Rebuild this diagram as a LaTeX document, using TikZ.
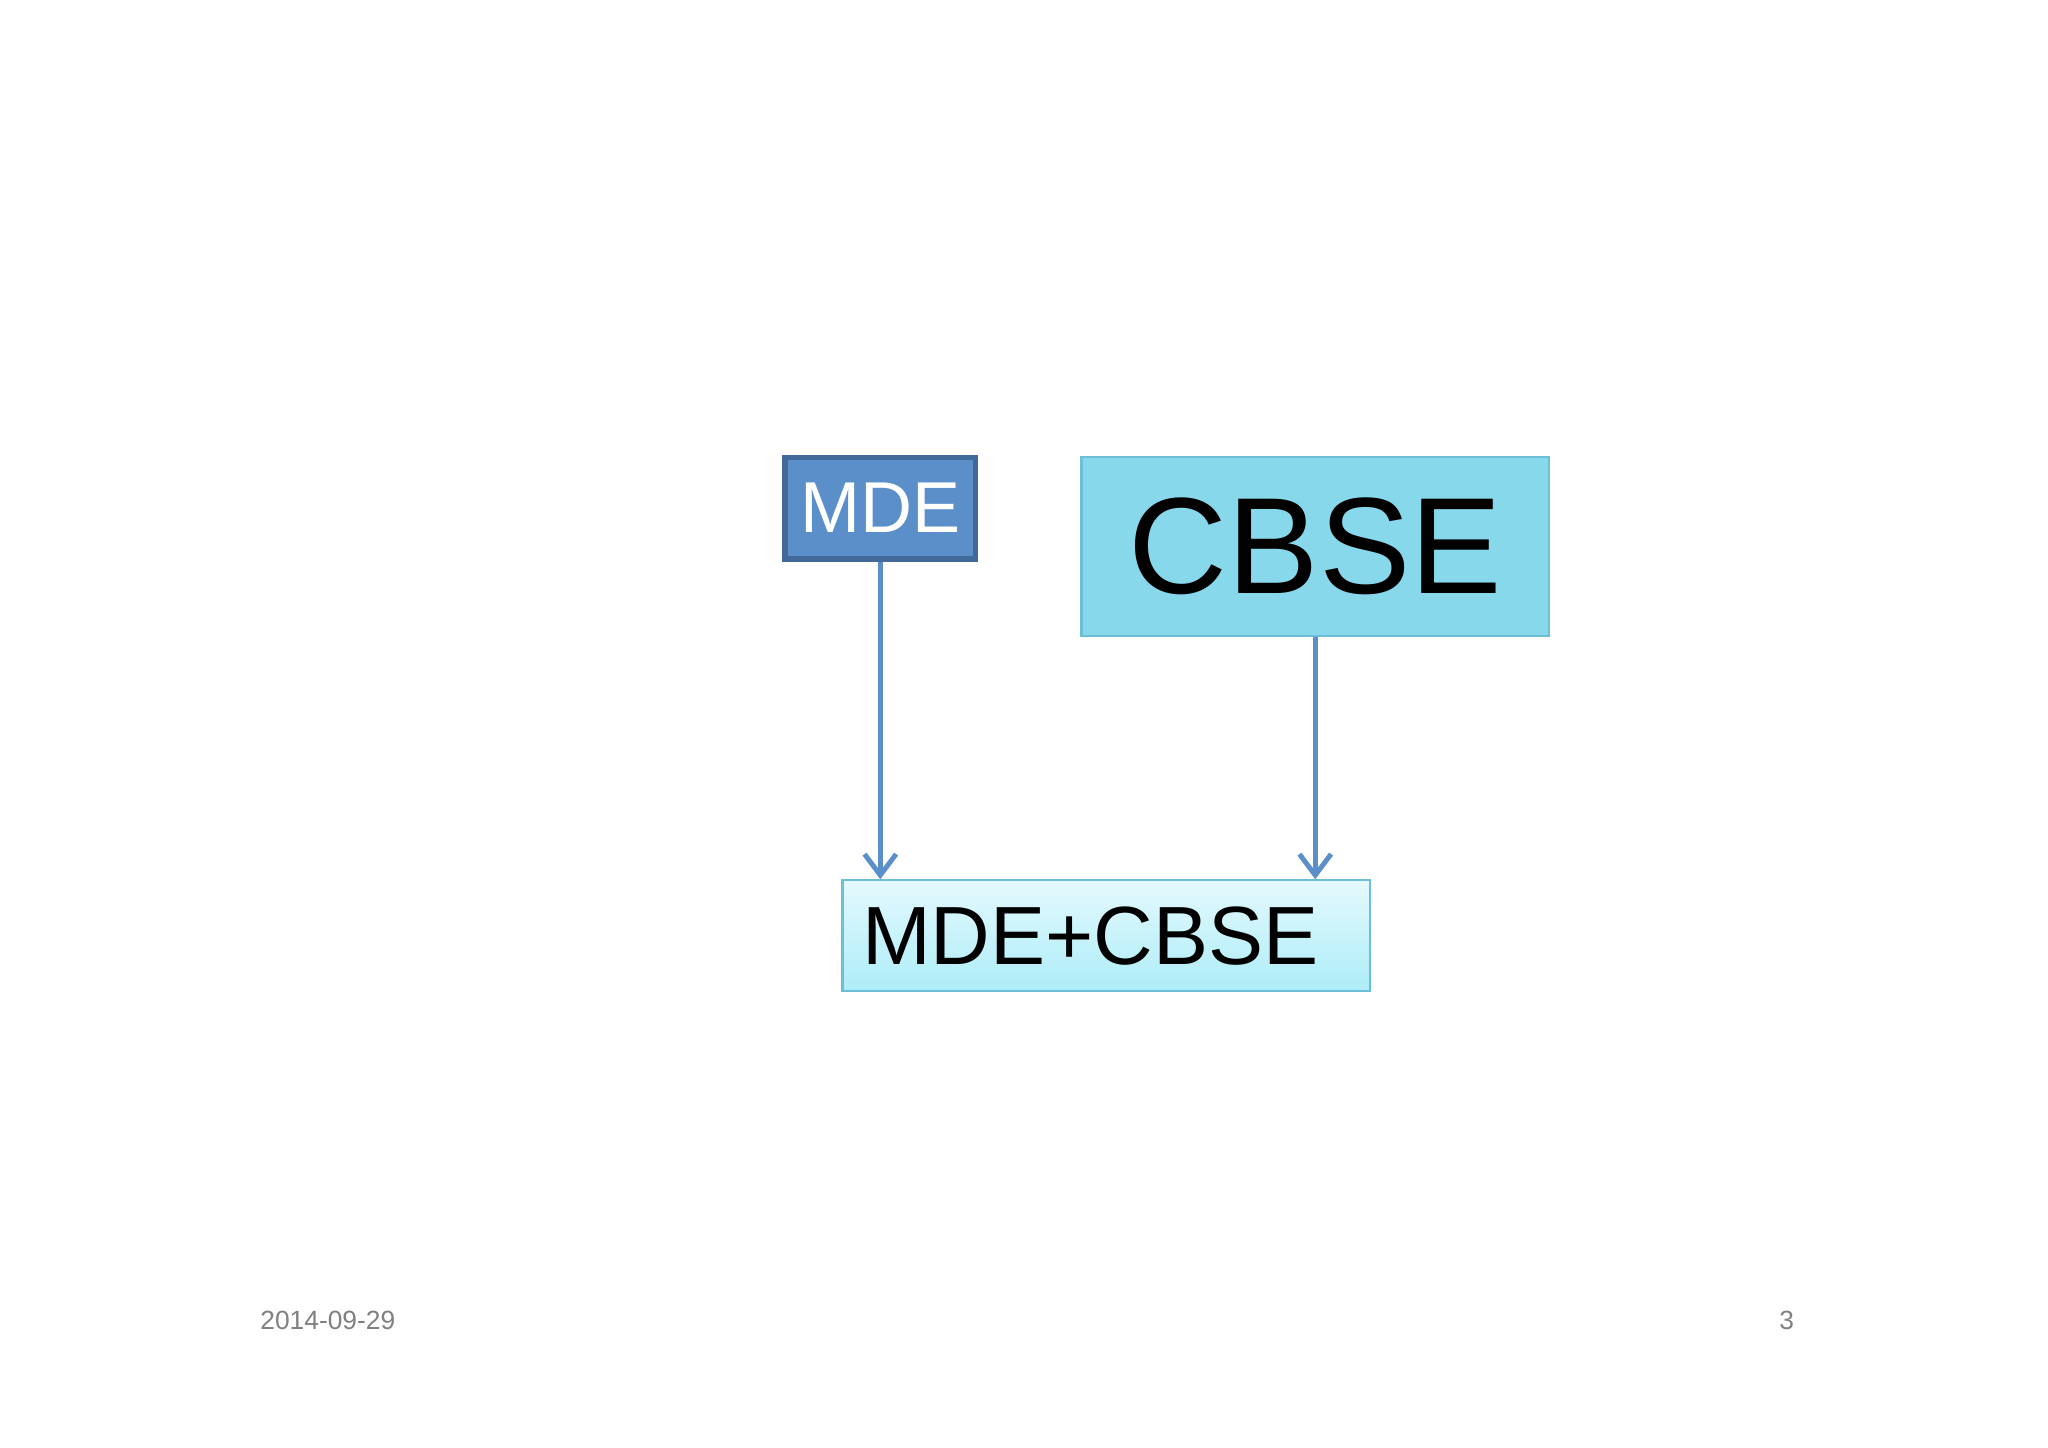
\documentclass[tikz,border=0pt]{standalone}
\usepackage{fontspec}
\setmainfont{Liberation Sans}
\usetikzlibrary{arrows.meta,positioning}
\definecolor{mdefill}{HTML}{5B8FC9}
\definecolor{mdeline}{HTML}{41699A}
\definecolor{cbsefill}{HTML}{88D8EC}
\definecolor{cbseline}{HTML}{6CBFD6}
\definecolor{bothtop}{HTML}{E4F9FD}
\definecolor{bothbot}{HTML}{ADEDF8}
\begin{document}
\begin{tikzpicture}
[x=0.01306cm,y=-0.01306cm,
 box/.style={rectangle,inner sep=0pt,line width=0.6pt},
 link/.style={draw=mdefill,line width=1.4pt,-{Straight Barb[length=6pt,width=9pt]}}]
\useasboundingbox (0,0) rectangle (1568,1108);
\node[box,fill=mdefill,draw=mdeline,line width=1.5pt,minimum width=146*0.01306cm,minimum height=78*0.01306cm,
  text=white,font=\fontsize{20.5pt}{24pt}\selectfont] (mde) at (674,389) {MDE};
\node[box,fill=cbsefill,draw=cbseline,minimum width=358*0.01306cm,minimum height=137*0.01306cm,
  font=\fontsize{39pt}{46pt}\selectfont] (cbse) at (1007,418.5) {CBSE};
\node[box,top color=bothtop,bottom color=bothbot,draw=cbseline,minimum width=404*0.01306cm,minimum height=85*0.01306cm,
  text width=374*0.01306cm,align=left,font=\fontsize{23.5pt}{28pt}\selectfont] (both) at (847,716.5) {MDE+CBSE};
\node[text=gray,font=\fontsize{7.5pt}{9pt}\selectfont] (date) at (251,1011) {2014-09-29};
\node[text=gray,font=\fontsize{7.5pt}{9pt}\selectfont] (page) at (1368,1011) {3};
\draw[link] (mde.south) -- (both.north -| mde.south);
\draw[link] (cbse.south) -- (both.north -| cbse.south);
\end{tikzpicture}
\end{document}
